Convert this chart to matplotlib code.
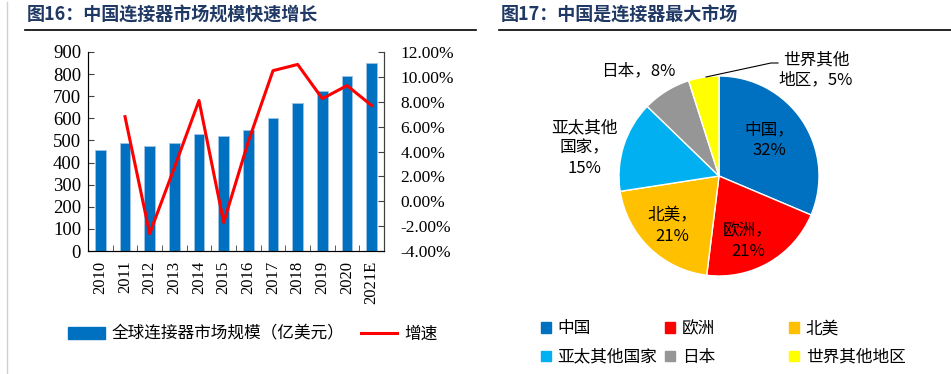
import numpy as np
import matplotlib
matplotlib.use('Agg')
from matplotlib import pyplot as plt
from matplotlib.patches import Patch
from matplotlib.lines import Line2D

plt.rcParams['font.family'] = ['Liberation Serif', 'Noto Sans CJK SC']

# Chart data
years = ['2010', '2011', '2012', '2013', '2014', '2015', '2016',
         '2017', '2018', '2019', '2020', '2021E']
market = [459, 489, 476, 489, 528, 519, 546, 600, 668, 722, 790, 850]
growth = [np.nan, 6.8, -2.6, 2.7, 8.1, -1.7, 4.8, 10.5, 11.0, 8.25, 9.3, 7.7]

regions = ['中国', '欧洲', '北美', '亚太其他国家', '日本', '世界其他地区']
shares = [32, 21, 21, 15, 8, 5]
region_colors = ['#0070C0', '#FF0000', '#FFC000', '#00B0F0', '#969696', '#FFFF00']

W, H = 951, 374
fig = plt.figure(figsize=(W / 100, H / 100), dpi=100)

def px_axes(x0, y0, x1, y1, **kw):
    return fig.add_axes([x0 / W, 1 - y1 / H, (x1 - x0) / W, (y1 - y0) / H], **kw)

cjk = ['Noto Sans CJK SC', 'DejaVu Sans']
title_col = '#1F3864'
axis_col = '#404040'

# titles and rules
fig.text(27 / W, 1 - 15 / H, '图16：中国连接器市场规模快速增长', family=cjk,
         fontsize=13, fontweight='bold', color=title_col, va='center')
fig.text(501 / W, 1 - 15 / H, '图17：中国是连接器最大市场', family=cjk,
         fontsize=13, fontweight='bold', color=title_col, va='center')
fig.add_artist(Line2D([25 / W, 476 / W], [1 - 30 / H] * 2, color='black', lw=1.2))
fig.add_artist(Line2D([499 / W, 1.0], [1 - 30 / H] * 2, color='black', lw=1.2))
fig.add_artist(Line2D([7 / W] * 2, [0, 1 - 2 / H], color='#D0D0D0', lw=1))

# ---- left: bars + growth line
ax = px_axes(88, 52, 384, 251)
x = np.arange(len(years))
ax.bar(x, market, width=0.42, color='#0070C0', edgecolor='#9DC3E6', linewidth=0.6)
ax.set_xlim(-0.5, len(years) - 0.5)
ax.set_ylim(0, 900)
ax.set_yticks(range(0, 901, 100))
ax.set_xticks(x)
ax.set_xticklabels(years, rotation=90, fontsize=12)
ax.set_xticks(np.arange(-0.5, len(years)), minor=True)
ax.tick_params(axis='x', which='major', length=0, pad=7)
ax.tick_params(axis='x', which='minor', length=4, direction='in', color=axis_col)
ax.tick_params(axis='y', direction='in', length=4, labelsize=13.5, color=axis_col, pad=5)
ax.spines['top'].set_visible(False)
for s in ['left', 'bottom', 'right']:
    ax.spines[s].set_color(axis_col)

ax2 = ax.twinx()
ax2.plot(x, growth, color='#FF0000', lw=2.2)
ax2.set_ylim(-4, 12)
ax2.set_yticks(range(-4, 13, 2))
ax2.set_yticklabels(['%.2f%%' % v for v in range(-4, 13, 2)])
ax2.tick_params(axis='y', direction='in', length=4, labelsize=12.5, color=axis_col, pad=12)
ax2.spines['top'].set_visible(False)
ax2.spines['right'].set_color(axis_col)

handles = [Patch(color='#0070C0'), Line2D([], [], color='#FF0000', lw=2.2)]
fig.legend(handles, ['全球连接器市场规模（亿美元）', '增速'], loc='center left',
           bbox_to_anchor=(53 / W, 1 - 334 / H), ncol=2, frameon=False,
           prop={'family': cjk, 'size': 12}, handlelength=2.2, columnspacing=1.0,
           handletextpad=0.4)

# ---- right: pie (clockwise from 12 o'clock)
pax = px_axes(619, 76, 819, 276)
wedges, _ = pax.pie(shares, colors=region_colors, startangle=90, counterclock=False,
                    wedgeprops={'edgecolor': 'white', 'linewidth': 1})
pax.set_xlim(-1, 1)
pax.set_ylim(-1, 1)
pax.set_aspect('equal')

def ptext(px, py, s):
    fig.text(px / W, 1 - py / H, s, ha='center', va='center', family=cjk,
             fontsize=12, linespacing=1.25)

ptext(769, 140, '中国，\n32%')
ptext(748, 241, '欧洲，\n21%')
ptext(672, 226, '北美，\n21%')
ptext(584, 148, '亚太其他\n国家，\n15%')
ptext(638, 71, '日本，8%')
ptext(816, 70, '世界其他\n地区，5%')
fig.add_artist(Line2D([706 / W, 771 / W, 778 / W],
                      [1 - 77 / H, 1 - 63 / H, 1 - 63 / H], color='black', lw=0.8))

# legend: three fixed columns, two rows each
col_x = [526, 650, 774]
for c in range(3):
    idx = [c, c + 3]
    ph = [Patch(color=region_colors[i]) for i in idx]
    fig.legend(ph, [regions[i] for i in idx], loc='center left',
               bbox_to_anchor=(col_x[c] / W, 1 - 343 / H),
               ncol=1, frameon=False, prop={'family': cjk, 'size': 12},
               handlelength=0.6, handleheight=0.6, handletextpad=0.4,
               labelspacing=0.7)

fig.savefig('out.png', dpi=100)
